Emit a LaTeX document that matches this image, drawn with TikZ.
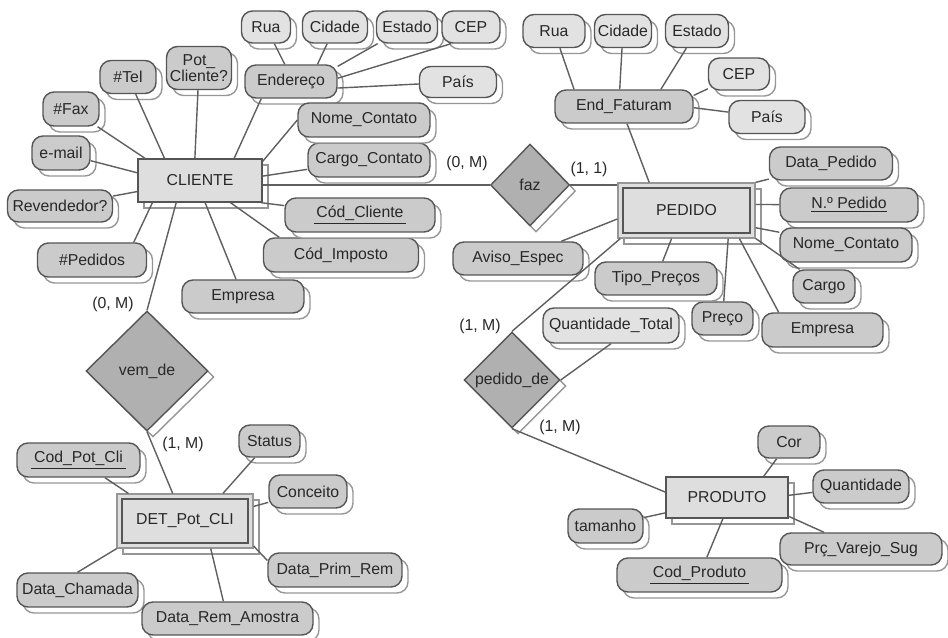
\documentclass[tikz,border=0pt]{standalone}
\usepackage{fontspec}
\setmainfont{Liberation Sans}
\usepackage{xcolor}
\usetikzlibrary{shapes.geometric, shadows, positioning}
\definecolor{edgegray}{RGB}{85,85,85}
\definecolor{linkgray}{RGB}{95,95,95}
\definecolor{attrgray}{RGB}{203,203,203}
\definecolor{subgray}{RGB}{226,226,226}
\definecolor{entgray}{RGB}{222,222,222}
\definecolor{relgray}{RGB}{176,176,176}
\definecolor{shadowgray}{RGB}{150,150,150}
\definecolor{txtgray}{RGB}{40,40,40}
\tikzset{
  outshadow/.style = {drop shadow={shadow xshift=0.12cm, shadow yshift=-0.12cm,
    fill=white, draw=shadowgray, opacity=1}},
  attr/.style = {rectangle, draw=edgegray, fill=attrgray, line width=0.8pt,
    rounded corners=0.22cm, inner sep=1pt, align=center, minimum height=0.66cm, outshadow},
  subattr/.style = {attr, fill=subgray},
  entity/.style = {rectangle, draw=edgegray, fill=entgray, line width=0.8pt, outshadow},
  weakentity/.style = {entity, draw=shadowgray, line width=0.7pt},
  innerframe/.style = {draw=edgegray, line width=1pt},
  rel/.style = {diamond, draw=edgegray, fill=relgray, line width=0.8pt, inner sep=0pt, outshadow},
  card/.style = {text=txtgray},
  conn/.style = {draw=linkgray, line width=0.8pt},
}
\begin{document}
\begin{tikzpicture}[x=0.02cm, y=-0.02cm, font=\fontsize{9}{10}\selectfont, text=txtgray]
  \useasboundingbox (0,0) rectangle (948,638);

  % Entities
  \node[entity, minimum width=2.48cm, minimum height=0.86cm] (cliente) at (200,180.5) {CLIENTE};
  \node[weakentity, minimum width=2.74cm, minimum height=1.10cm] (pedido) at (686.5,210.5) {PEDIDO};
  \draw[innerframe] ([shift={(3.4pt,-3.4pt)}]pedido.north west) rectangle ([shift={(-3.4pt,3.4pt)}]pedido.south east);
  \node[entity, minimum width=2.44cm, minimum height=0.82cm] (produto) at (727,497.5) {PRODUTO};
  \node[weakentity, minimum width=2.72cm, minimum height=1.08cm] (det) at (185,521) {DET\_Pot\_CLI};
  \draw[innerframe] ([shift={(3.4pt,-3.4pt)}]det.north west) rectangle ([shift={(-3.4pt,3.4pt)}]det.south east);

  % Relationships
  \node[rel, minimum width=1.58cm, minimum height=1.64cm] (faz) at (530,185) {faz};
  \node[rel, minimum width=2.44cm, minimum height=2.4cm] (vemde) at (147,371) {vem\_de};
  \node[rel, minimum width=1.92cm, minimum height=1.92cm] (pedidode) at (512,380) {pedido\_de};

  % CLIENTE attributes
  \node[subattr, minimum width=0.98cm, minimum height=0.64cm] (rua1) at (266,27) {Rua};
  \node[subattr, minimum width=1.30cm, minimum height=0.64cm] (cidade1) at (335,27) {Cidade};
  \node[subattr, minimum width=1.22cm, minimum height=0.64cm] (estado1) at (407,27) {Estado};
  \node[subattr, minimum width=1.16cm, minimum height=0.64cm] (cep1) at (471,27) {CEP};
  \node[subattr, minimum width=1.54cm, minimum height=0.62cm] (pais1) at (458,82) {País};
  \node[attr, minimum width=1.84cm] (endereco) at (291,81.5) {Endereço};
  \node[attr, minimum width=1.30cm, minimum height=0.86cm] (potcli) at (199,68) {Pot\_\\[-1pt]Cliente?};
  \node[attr, minimum width=1.12cm] (tel) at (128,77) {\#Tel};
  \node[attr, minimum width=1.12cm, minimum height=0.68cm] (fax) at (71,109) {\#Fax};
  \node[attr, minimum width=1.16cm, minimum height=0.68cm] (email) at (61,153) {e-mail};
  \node[attr, minimum width=2.10cm, minimum height=0.64cm] (revend) at (60,206) {Revendedor?};
  \node[attr, minimum width=2.18cm, minimum height=0.68cm] (npedidos) at (92,260) {\#Pedidos};
  \node[attr, minimum width=2.44cm] (empresa1) at (243,296.5) {Empresa};
  \node[attr, minimum width=3.10cm, minimum height=0.68cm] (codimp) at (341,255) {Cód\_Imposto};
  \node[attr, minimum width=3.00cm, minimum height=0.68cm] (codcli) at (360,215) {\underline{\,Cód\_Cliente\,}};
  \node[attr, minimum width=2.44cm, minimum height=0.68cm] (cargocont) at (369,160) {Cargo\_Contato};
  \node[attr, minimum width=2.64cm, minimum height=0.68cm] (nomecont1) at (364,120) {Nome\_Contato};

  % PEDIDO attributes
  \node[attr, minimum width=2.76cm] (endfat) at (624,106.5) {End\_Faturam};
  \node[subattr, minimum width=1.24cm] (rua2) at (554,31) {Rua};
  \node[subattr, minimum width=1.14cm] (cidade2) at (623,31) {Cidade};
  \node[subattr, minimum width=1.26cm] (estado2) at (697,31) {Estado};
  \node[subattr, minimum width=1.22cm, minimum height=0.64cm] (cep2) at (739,74) {CEP};
  \node[subattr, minimum width=1.52cm] (pais2) at (767,117) {País};
  \node[attr, minimum width=2.46cm] (datapedido) at (831,163.5) {Data\_Pedido};
  \node[attr, minimum width=2.76cm, minimum height=0.68cm] (npedido) at (849,205) {\underline{N.º Pedido}};
  \node[attr, minimum width=2.64cm, minimum height=0.68cm] (nomecont2) at (846,245) {Nome\_Contato};
  \node[attr, minimum width=1.24cm] (cargo) at (824,286.5) {Cargo};
  \node[attr, minimum width=2.42cm, minimum height=0.68cm] (empresa2) at (822.5,330) {Empresa};
  \node[attr, minimum width=1.22cm] (preco) at (722.5,318.5) {Preço};
  \node[attr, minimum width=2.44cm] (tipoprecos) at (656,278.5) {Tipo\_Preços};
  \node[attr, minimum width=2.60cm] (aviso) at (518,258.5) {Aviso\_Espec};
  \node[subattr, minimum width=2.72cm, minimum height=0.70cm] (qtdtotal) at (611,325.5) {Quantidade\_Total};

  % PRODUTO attributes
  \node[attr, minimum width=1.24cm, minimum height=0.64cm] (cor) at (789,442) {Cor};
  \node[attr, minimum width=1.92cm] (quantidade) at (861,486.5) {Quantidade};
  \node[attr, minimum width=3.24cm, minimum height=0.64cm] (prcvarejo) at (861,549) {Prç\_Varejo\_Sug};
  \node[attr, minimum width=3.30cm, minimum height=0.68cm] (codprod) at (699.5,575) {\underline{\,Cod\_Produto\,}};
  \node[attr, minimum width=1.50cm, minimum height=0.68cm] (tamanho) at (605.5,526) {tamanho};

  % DET_Pot_CLI attributes
  \node[attr, minimum width=1.22cm, minimum height=0.64cm] (status) at (269.5,441) {Status};
  \node[attr, minimum width=2.46cm, minimum height=0.68cm] (codpotcli) at (78.5,460) {\underline{\,Cod\_Pot\_Cli\,}};
  \node[attr, minimum width=1.56cm] (conceito) at (308,491.5) {Conceito};
  \node[attr, minimum width=2.68cm, minimum height=0.68cm] (dataprim) at (335,570) {Data\_Prim\_Rem};
  \node[attr, minimum width=2.42cm, minimum height=0.68cm] (datacham) at (77.5,590) {Data\_Chamada};
  \node[attr, minimum width=3.42cm] (datarem) at (227.5,618.5) {Data\_Rem\_Amostra};

  % Cardinalities
  \node[card] (cvem1) at (113,304) {(0, M)};
  \node[card] (cvem2) at (183,444) {(1, M)};
  \node[card] (cfaz1) at (467,163) {(0, M)};
  \node[card] (cfaz2) at (589,169) {(1, 1)};
  \node[card] (cped1) at (480,326) {(1, M)};
  \node[card] (cped2) at (560,427) {(1, M)};

  % CLIENTE links
  \draw[conn] (tel) -- (cliente.148);
  \draw[conn] (potcli) -- (cliente.103);
  \draw[conn] (endereco.210) -- (cliente.33);
  \draw[conn] (fax) -- (cliente.158);
  \draw[conn] (email) -- (cliente.173);
  \draw[conn] (revend) -- (cliente.190);
  \draw[conn] (npedidos.23) -- (cliente.205);
  \draw[conn] (empresa1) -- (cliente.283);
  \draw[conn] (codimp.164) -- (cliente.324);
  \draw[conn] (codcli) -- (cliente.340);
  \draw[conn] (cargocont) -- (cliente.4);
  \draw[conn] (nomecont1.west) -- (cliente.17);
  \draw[conn] (rua1) -- (endereco.110);
  \draw[conn] (cidade1) -- (endereco.33);
  \draw[conn] (estado1) -- (endereco.18);
  \draw[conn] (cep1.220) -- (endereco.4);
  \draw[conn] (pais1) -- (endereco.-8);

  % PEDIDO links
  \draw[conn] (rua2) -- (endfat.161);
  \draw[conn] (cidade2) -- (endfat.104);
  \draw[conn] (estado2) -- (endfat.25);
  \draw[conn] (cep2) -- (endfat.9);
  \draw[conn] (pais2) -- (endfat.-1);
  \draw[conn] (endfat.280) -- (pedido.143);
  \draw[conn] (datapedido) -- (pedido.north east);
  \draw[conn] (npedido) -- (pedido.5);
  \draw[conn] (nomecont2) -- (pedido.-14);
  \draw[conn] (cargo) -- (pedido.-22);
  \draw[conn] (empresa2.158) -- (pedido.-28);
  \draw[conn] (preco) -- (pedido.-34);
  \draw[conn] (tipoprecos) -- (pedido.242);
  \draw[conn] (aviso) -- (pedido.187);

  % PRODUTO links
  \draw[conn] (cor) -- (produto.30);
  \draw[conn] (quantidade) -- (produto.2);
  \draw[conn] (prcvarejo) -- (produto.-17);
  \draw[conn] (codprod) -- (produto.259);
  \draw[conn] (tamanho) -- (produto.194);

  % DET_Pot_CLI links
  \draw[conn] (codpotcli) -- (det.154);
  \draw[conn] (status) -- (det.36);
  \draw[conn] (conceito) -- (det.12);
  \draw[conn] (dataprim.172) -- (det.-20);
  \draw[conn] (datarem) -- (det.-47);
  \draw[conn] (datacham.north) -- (det.202);

  % Relationship links
  \draw[conn] (cliente.east |- faz.west) -- (faz.west);
  \draw[conn] (faz.east) -- (faz.east -| pedido.west);
  \draw[conn] (vemde.north) -- (cliente.223);
  \draw[conn] (vemde.south) -- (det.114);
  \draw[conn] (pedido.203) -- (pedidode.north);
  \draw[conn] (qtdtotal.south) -- (pedidode.east);
  \draw[conn] (pedidode.south) -- (produto.175);

\end{tikzpicture}
\end{document}
